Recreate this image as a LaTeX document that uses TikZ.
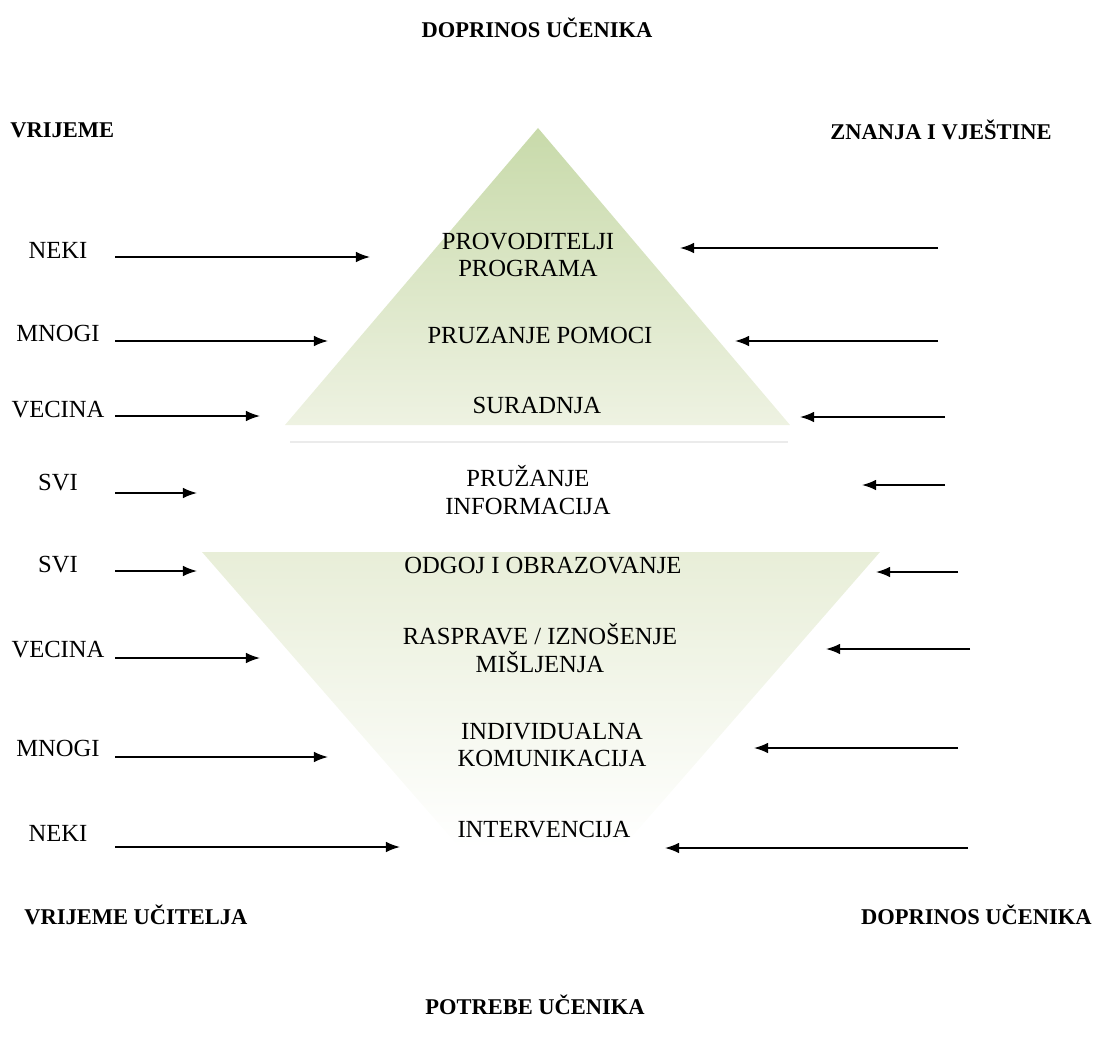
\documentclass[tikz,border=0pt]{standalone}
\usepackage{fontspec}
\setmainfont{Liberation Serif}
\usetikzlibrary{arrows.meta}

\definecolor{pyrtop}{RGB}{200,218,170}
\definecolor{pyrbase}{RGB}{238,242,226}
\definecolor{funtop}{RGB}{232,238,216}

\begin{document}
\begin{tikzpicture}[x=0.025cm,y=-0.025cm]
    \useasboundingbox (0,0) rectangle (1104,1044);

    % the two triangles
    \shade[top color=pyrtop,bottom color=pyrbase] (538,128) -- (790,425) -- (285,425) -- cycle;
    \draw[black!8,line width=1pt] (290,442) -- (788,442);
    \shade[top color=funtop,bottom color=white] (202,552) -- (880,552) -- (622,848) -- (460,848) -- cycle;

    \begin{scope}[every node/.style={font=\bfseries\fontsize{16}{18}\selectfont,inner sep=0pt}]
        \node (top) at (537,28) {DOPRINOS UČENIKA};
        \node[anchor=west] (time) at (10,130) {VRIJEME};
        \node (skills) at (941,130) {ZNANJA I VJEŠTINE};
        \node[anchor=west] (teacher) at (24,915) {VRIJEME UČITELJA};
        \node[anchor=east] (pupil) at (1092,915) {DOPRINOS UČENIKA};
        \node (needs) at (535,1005) {POTREBE UČENIKA};
    \end{scope}

    \begin{scope}[every node/.style={font=\fontsize{17.5}{19.5}\selectfont,align=center,inner sep=0pt}]
        \foreach \i/\y/\txt in {1/250/NEKI,2/333/MNOGI,3/410/VECINA,4/483/SVI,
                                5/565/SVI,6/650/VECINA,7/748/MNOGI,8/833/NEKI}{
            \node (who\i) at (58,\y) {\txt};
        }
        \foreach \i/\x/\y/\txt in {1/528/255/{PROVODITELJI\\PROGRAMA},
                                   2/540/335/{PRUZANJE POMOCI},
                                   3/537/405/{SURADNJA},
                                   4/528/490/{PRUŽANJE\\INFORMACIJA},
                                   5/543/566/{ODGOJ I OBRAZOVANJE},
                                   6/540/648/{RASPRAVE / IZNOŠENJE\\MIŠLJENJA},
                                   7/552/745/{INDIVIDUALNA\\KOMUNIKACIJA},
                                   8/544/830/{INTERVENCIJA}}{
            \node (lvl\i) at (\x,\y) {\txt};
        }
    \end{scope}

    \begin{scope}[>={Latex[length=10pt,width=7.5pt]},
            every edge/.style={draw=black,line width=1.1pt}]
        % from the left
        \foreach \i/\y/\b in {1/257/370,2/341/328,3/416/260,4/493/197,
                              5/571/197,6/658/260,7/757/328,8/847/400}{
            \coordinate (ls\i) at (115,\y);
            \coordinate (le\i) at (\b,\y);
            \path [->] (ls\i) edge (le\i);
        }
        % from the right
        \foreach \i/\y/\a/\b in {1/248/938/680,2/341/938/735,3/417/945/800,4/485/945/862,
                                 5/572/958/876,6/649/970/826,7/748/958/754,8/848/968/665}{
            \coordinate (rs\i) at (\a,\y);
            \coordinate (re\i) at (\b,\y);
            \path [->] (rs\i) edge (re\i);
        }
    \end{scope}
\end{tikzpicture}
\end{document}
